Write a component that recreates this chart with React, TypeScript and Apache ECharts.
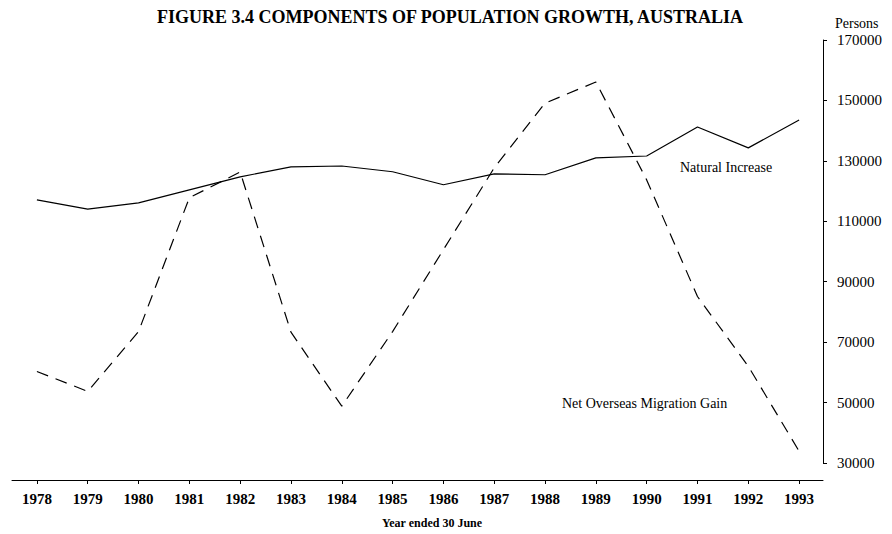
import React, { useEffect, useRef } from "react";
import * as echarts from "echarts";

const years = [1978, 1979, 1980, 1981, 1982, 1983, 1984, 1985, 1986, 1987, 1988, 1989, 1990, 1991, 1992, 1993];
const naturalIncrease = [117100, 114000, 116100, 120400, 124700, 128000, 128300, 126400, 122100, 125700, 125400, 131000, 131600, 141200, 134300, 143500];
const netMigration = [60300, 53700, 73500, 117800, 126300, 73300, 48800, 73500, 100600, 127700, 149100, 156100, 123700, 85100, 62000, 33900];
const yTicks = [30000, 50000, 70000, 90000, 110000, 130000, 150000, 170000];

const FONT = "'Liberation Serif', 'Times New Roman', serif";

export default function App() {
  const ref = useRef<HTMLDivElement>(null);
  useEffect(() => {
    if (!ref.current) return;
    const chart = echarts.init(ref.current, null, { renderer: "svg" });
    chart.setOption({
      animation: false,
      backgroundColor: "#ffffff",
      grid: { left: 12, right: 69, top: 40, bottom: 71, containLabel: false },
      xAxis: {
        type: "value",
        min: 1977.51,
        max: 1993.47,
        offset: 17,
        splitLine: { show: false },
        axisLine: { show: true, lineStyle: { color: "#000", width: 1 } },
        axisTick: { show: true, customValues: years, length: 4, lineStyle: { color: "#000" } },
        axisLabel: {
          customValues: years,
          margin: 11,
          color: "#000",
          fontFamily: FONT,
          fontSize: 15,
          fontWeight: "bold",
          formatter: (v: number) => String(Math.round(v)),
        },
      },
      yAxis: {
        type: "value",
        position: "right",
        min: 30000,
        max: 170000,
        splitLine: { show: false },
        axisLine: { show: true, lineStyle: { color: "#000", width: 1 } },
        axisTick: { show: true, inside: false, customValues: yTicks, length: 4, lineStyle: { color: "#000" } },
        axisLabel: {
          customValues: yTicks,
          margin: 14,
          color: "#000",
          fontFamily: FONT,
          fontSize: 15,
          formatter: (v: number) => String(v),
        },
      },
      series: [
        {
          name: "Natural Increase",
          type: "line",
          data: years.map((y, i) => [y, naturalIncrease[i]]),
          showSymbol: false,
          symbol: "none",
          lineStyle: { color: "#000", width: 1.2, type: "solid" },
        },
        {
          name: "Net Overseas Migration Gain",
          type: "line",
          data: years.map((y, i) => [y, netMigration[i]]),
          showSymbol: false,
          symbol: "none",
          lineStyle: { color: "#000", width: 1.2, type: [12, 8] },
        },
      ],
      graphic: [
        {
          type: "text",
          x: 450,
          y: 17,
          style: {
            text: "FIGURE 3.4 COMPONENTS OF POPULATION GROWTH, AUSTRALIA",
            fill: "#000",
            font: `bold 18px ${FONT}`,
            align: "center",
            verticalAlign: "middle",
          },
        },
        {
          type: "text",
          x: 835,
          y: 23,
          style: { text: "Persons", fill: "#000", font: `14px ${FONT}`, align: "left", verticalAlign: "middle" },
        },
        {
          type: "text",
          x: 680,
          y: 167,
          style: { text: "Natural Increase", fill: "#000", font: `14px ${FONT}`, align: "left", verticalAlign: "middle" },
        },
        {
          type: "text",
          x: 562,
          y: 403,
          style: { text: "Net Overseas Migration Gain", fill: "#000", font: `14px ${FONT}`, align: "left", verticalAlign: "middle" },
        },
        {
          type: "text",
          x: 432,
          y: 523,
          style: { text: "Year ended 30 June", fill: "#000", font: `bold 12px ${FONT}`, align: "center", verticalAlign: "middle" },
        },
      ],
    });
    return () => chart.dispose();
  }, []);
  return <div ref={ref} style={{ position: "fixed", left: 0, top: 0, width: 892, height: 534 }} />;
}
